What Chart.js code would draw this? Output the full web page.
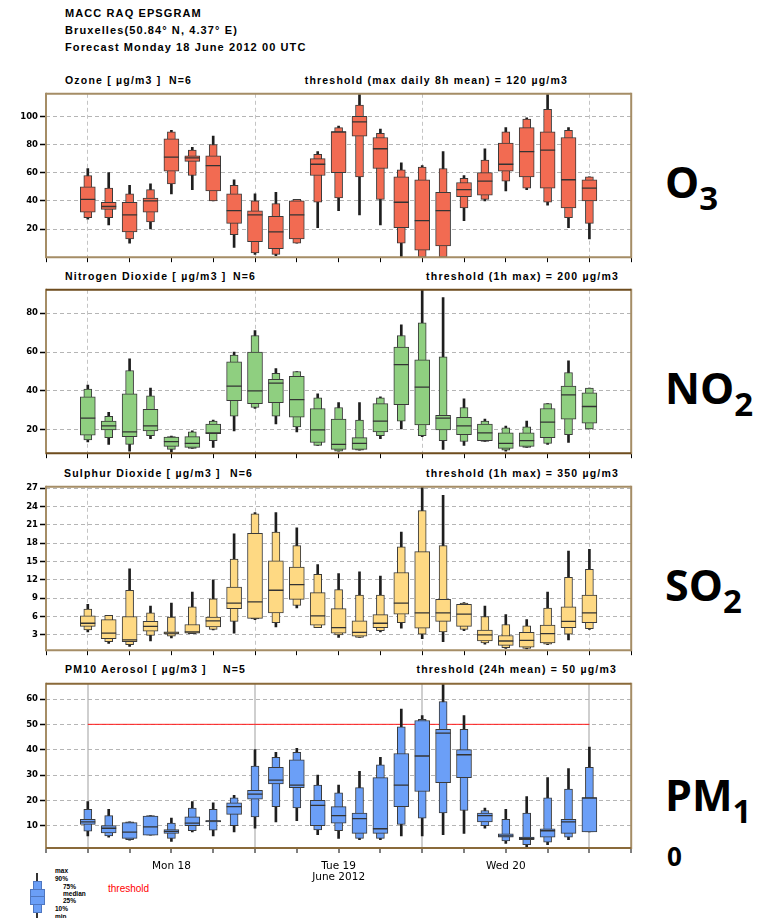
<!DOCTYPE html>
<html>
<head>
<meta charset="utf-8">
<title>MACC RAQ EPSGRAM</title>
<script src="https://cdn.jsdelivr.net/npm/chart.js@4.4.1/dist/chart.umd.min.js"></script>
<style>
  body { margin: 0; background: #fff; width: 763px; height: 918px; position: relative; overflow: hidden;
         font-family: "Liberation Sans", Arial, sans-serif; color: #000; }
  canvas { position: absolute; left: 0; }
  .t { position: absolute; font-weight: bold; font-size: 11px; line-height: 12px; letter-spacing: 1.1px; white-space: nowrap; }
  .p { position: absolute; font-weight: bold; font-size: 10.5px; line-height: 12px; letter-spacing: 1.2px; white-space: nowrap; }
  .big { position: absolute; left: 665px; font-family: "Open Sans", sans-serif; font-weight: bold; font-size: 43px;
         line-height: 43px; white-space: nowrap; }
  .big span { font-size: 33px; position: relative; top: 12px; }
  .lg { position: absolute; font-weight: bold; font-size: 6.5px; line-height: 7px; white-space: nowrap; }
  .gl { position: absolute; }
</style>
</head>
<body>

<div class="t" style="left:65px;top:7px">MACC RAQ EPSGRAM</div>
<div class="t" style="left:65px;top:24px">Bruxelles(50.84° N, 4.37° E)</div>
<div class="t" style="left:65px;top:41px">Forecast Monday 18 June 2012 00 UTC</div>

<div class="p" style="left:65px;top:74px">Ozone [ µg/m3 ]</div>
<div class="p" style="left:169px;top:74px">N=6</div>
<div class="p" style="right:195px;top:74px">threshold (max daily 8h mean) = 120 µg/m3</div>

<div class="p" style="left:65px;top:270px">Nitrogen Dioxide [ µg/m3 ]</div>
<div class="p" style="left:233px;top:270px">N=6</div>
<div class="p" style="right:144px;top:270px">threshold (1h max) = 200 µg/m3</div>

<div class="p" style="left:64px;top:467px">Sulphur Dioxide [ µg/m3 ]</div>
<div class="p" style="left:230px;top:467px">N=6</div>
<div class="p" style="right:144px;top:467px">threshold (1h max) = 350 µg/m3</div>

<div class="p" style="left:65px;top:663px">PM10 Aerosol [ µg/m3 ]</div>
<div class="p" style="left:223px;top:663px">N=5</div>
<div class="p" style="right:146px;top:663px">threshold (24h mean) = 50 µg/m3</div>

<div class="big" style="top:160px">O<span>3</span></div>
<div class="big" style="top:366px">NO<span>2</span></div>
<div class="big" style="top:563px">SO<span>2</span></div>
<div class="big" style="top:773px">PM<span>1</span></div>
<div class="big" style="top:843px;font-size:26px;line-height:26px;left:667px">0</div>

<!-- legend glyph -->
<div class="gl" style="left:36px;top:873px;width:1.5px;height:45px;background:#333"></div>
<div class="gl" style="left:33px;top:881px;width:7px;height:30px;background:#6b9ff7;border:1px solid #4f77c0"></div>
<div class="gl" style="left:30px;top:889px;width:13px;height:14px;background:#6b9ff7;border:1px solid #4f77c0"></div>
<div class="gl" style="left:30px;top:896px;width:15px;height:1px;background:#4f77c0"></div>
<div class="lg" style="left:55px;top:867px">max</div>
<div class="lg" style="left:55px;top:875px">90%</div>
<div class="lg" style="left:63px;top:883px">75%</div>
<div class="lg" style="left:63px;top:890px">median</div>
<div class="lg" style="left:63px;top:897px">25%</div>
<div class="lg" style="left:55px;top:905px">10%</div>
<div class="lg" style="left:55px;top:913px">min</div>
<div style="position:absolute;left:108px;top:883px;font-size:10px;line-height:12px;color:#f00">threshold</div>

<script>
// forecast steps (hours after Mon 18 June 00 UTC)
const hours = [0, 3, 6, 9, 12, 15, 18, 21, 24, 27, 30, 33, 36, 39, 42, 45, 48, 51, 54, 57, 60, 63, 66, 69, 72];
const xTicks = [-6, 0, 6, 12, 18, 24, 30, 36, 42, 48, 54, 60, 66, 72, 78];
const dayStarts = [0, 24, 48, 72];
const dayLabelHours = [12, 36, 60];
const dayLabels = ["Mon 18", ["Tue 19", "June 2012"], "Wed 20"];

// Ozone
const o3Min = [27, 23, 10, 20, 45, 48, 40, 7, 2, 1, 10, 21, 33, 30, 23, 0, -5, -1, 26, 40, 47, 48, 37, 21, 13];
const o3P10 = [28, 28, 13, 25, 52, 58, 40, 16, 3, 2, 10, 39, 42, 57, 41, 10, 0, 0, 35, 41, 54, 49, 39, 28, 24];
const o3P25 = [32, 34, 18, 32, 61, 68, 47, 24, 11, 6, 13, 58, 60, 86, 63, 21, 5, 8, 43, 44, 61, 57, 49, 35, 40];
const o3Med = [41, 36, 30, 40, 71, 70.5, 65, 33, 30, 18, 30, 66, 89, 96, 77, 39, 26, 33, 48, 54, 66, 75, 76, 55, 49];
const o3P75 = [50, 39, 39, 42, 84, 72, 72, 45, 33, 29, 40, 70, 89, 100, 85, 57, 55, 46, 53, 60, 81, 92, 89, 85, 55];
const o3P90 = [58, 49, 45, 48, 89, 76, 80, 51, 40, 38, 41, 73, 92, 108, 88, 62, 64, 63, 56, 69, 89, 98, 105, 90, 57];
const o3Max = [63, 60, 51, 52, 90, 78, 86, 55, 45, 46, 41, 75, 93, 117, 91, 67, 65, 75, 58, 77, 92, 99, 117, 92, 57];
const o3Ticks = [20, 40, 60, 80, 100];

// Nitrogen dioxide
const no2Min = [13.8, 12.5, 9, 15.5, 8.5, 10.5, 11, 19.5, 31, 23, 19, 12, 9, 9.5, 15.5, 20.5, 16.5, 10, 12, 14, 9, 11, 12.5, 13.5, 20.5];
const no2P10 = [14.8, 16, 12.5, 17, 10, 10.5, 14.5, 27, 31.5, 27, 21.5, 12, 9, 9.5, 17, 24.5, 17, 14.5, 14, 14, 9.5, 11, 13, 17.5, 20.5];
const no2P25 = [17.3, 20, 16.5, 19.5, 11.5, 11, 18, 35, 33.5, 34, 26.5, 13.5, 10, 10, 19, 33, 22.5, 20, 17.5, 14.5, 10.5, 11.5, 16, 25.5, 23.5];
const no2Med = [26, 22, 19, 22, 14, 13, 18.5, 42.5, 40, 44, 35.5, 20, 12.5, 13, 24.5, 53.5, 42, 26, 22, 18.5, 13, 14.5, 24, 38, 32];
const no2P75 = [37, 24.5, 38.5, 30.5, 16.3, 16.5, 23, 55, 60, 46, 47.5, 31, 25.5, 16, 33.5, 62.5, 56, 27.5, 26.5, 23, 18.5, 18.5, 31, 42.5, 39];
const no2P90 = [41, 27, 50.5, 37.5, 16.5, 19, 24.5, 58.5, 68.5, 49, 50, 36.5, 31.5, 25, 36.5, 68.5, 75, 57.5, 31.5, 24.5, 21, 21.5, 33.5, 49.5, 41.5];
const no2Max = [43, 29, 56.5, 41.5, 16.8, 19.5, 25, 60, 71, 51.5, 50, 38.5, 34, 34, 37, 74, 92, 88, 36, 25.5, 22, 24.5, 33.5, 55.5, 41.5];
const no2Ticks = [20, 40, 60, 80];

// Sulphur dioxide
const so2Min = [3.5, 1.6, 1.1, 2.0, 2.5, 3.2, 3.8, 3.3, 5.5, 4.3, 7.4, 4.2, 2.6, 2.6, 3.5, 4.1, 2.4, 1.9, 3.7, 1.5, 0.8, 0.7, 1.4, 2.2, 3.9];
const so2P10 = [3.8, 1.9, 1.4, 2.9, 2.8, 3.2, 3.9, 5.2, 5.6, 5.0, 7.8, 4.2, 3.0, 2.6, 3.7, 5.0, 3.1, 3.5, 3.9, 1.7, 0.9, 0.8, 1.5, 3.1, 4.0];
const so2P25 = [4.4, 2.4, 1.9, 3.6, 3.1, 3.3, 4.3, 7.3, 5.7, 6.6, 8.8, 4.6, 3.3, 2.8, 4.2, 6.4, 4.1, 5.2, 4.4, 2.0, 1.3, 1.0, 1.7, 4.2, 5.0];
const so2Med = [4.9, 3.3, 2.2, 4.4, 3.3, 3.5, 5.3, 8.2, 8.4, 10.3, 11.2, 6.1, 4.2, 3.4, 4.9, 8.2, 6.6, 6.6, 6.4, 3.0, 2.0, 2.1, 3.2, 5.2, 6.6];
const so2P75 = [6.1, 5.5, 6.0, 5.2, 3.5, 4.7, 5.9, 10.8, 19.6, 15.1, 14.1, 9.9, 7.3, 5.3, 6.3, 13.2, 16.6, 8.8, 8.0, 3.8, 2.9, 3.4, 4.6, 7.6, 9.5];
const so2P90 = [7.2, 6.2, 10.3, 6.6, 5.9, 7.6, 8.9, 15.4, 22.8, 19.8, 17.6, 12.9, 10.4, 9.5, 9.5, 17.4, 23.3, 17.6, 8.2, 6.0, 4.7, 4.5, 7.4, 12.4, 13.7];
const so2Max = [8.0, 6.2, 13.8, 7.7, 8.2, 10.0, 12.0, 19.5, 23.0, 23.0, 20.5, 14.5, 13.0, 13.3, 12.6, 19.8, 27.5, 25.8, 8.3, 7.7, 6.3, 5.5, 10.0, 16.7, 17.0];
const so2Ticks = [3, 6, 9, 12, 15, 18, 21, 24, 27];

// PM10 aerosol
const pmMin = [6, 5.5, 4.3, 6.3, 3.8, 7.5, 6, 7.5, 9, 11.5, 12, 6.5, 5, 4.5, 4.5, 6, 6, 6.5, 7, 9, 3, 1.5, 2.5, 4.5, 7.5];
const pmP10 = [7.8, 6, 4.5, 6.3, 5, 8, 8.2, 10, 13.5, 17.5, 17, 8.3, 8, 5, 5, 10.5, 13, 15, 16, 10, 4, 2.5, 3.5, 5.5, 7.5];
const pmP25 = [10.5, 7.2, 5, 6.3, 7, 10, 11.5, 14.5, 20.5, 26.5, 25, 10, 11, 7, 7, 17.5, 23.5, 27, 29, 11.5, 5.5, 4.5, 5.5, 7, 7.5];
const pmMed = [11.5, 9, 7.5, 9.5, 7.8, 11, 11.8, 17.5, 22.5, 28, 26, 18, 14, 12.8, 8.8, 26, 37.5, 46.5, 38, 14, 6, 5, 8, 11.5, 21];
const pmP75 = [12.5, 10, 11.2, 13.8, 8.5, 13.5, 12, 19, 24, 33, 36, 20, 17.5, 15, 29, 38.5, 51.5, 48, 40, 15, 6.8, 5.5, 8.8, 12.5, 21];
const pmP90 = [16.5, 14, 11.5, 14, 11, 17, 16.5, 21, 33.5, 37, 39, 26, 23, 25, 34, 49, 52, 59, 48, 16, 12.5, 15, 21, 24.5, 33];
const pmMax = [19.5, 16.5, 11.5, 14, 13, 19.5, 19, 22, 40, 39, 40.5, 30, 26, 31.5, 37, 56, 53.5, 66, 53.5, 17, 16.5, 21.5, 29, 32.5, 41];
const pmTicks = [10, 20, 30, 40, 50, 60];
const pmThreshold = 50;
const thresholdHours = [0, 72];

const PLOT_H = 167;

// frame around the plot area (sides and top/bottom can differ in colour)
const framePlugin = {
  id: "frame",
  afterDraw(chart, args, opts) {
    const { ctx, chartArea: a } = chart;
    ctx.save();
    ctx.lineWidth = 2;
    ctx.strokeStyle = opts.side;
    ctx.beginPath();
    ctx.moveTo(a.left, a.top - 1);
    ctx.lineTo(a.left, a.bottom + 1);
    ctx.moveTo(a.right, a.top - 1);
    ctx.lineTo(a.right, a.bottom + 1);
    ctx.stroke();
    ctx.strokeStyle = opts.tb;
    ctx.beginPath();
    ctx.moveTo(a.left, a.top);
    ctx.lineTo(a.right, a.top);
    ctx.moveTo(a.left, a.bottom);
    ctx.lineTo(a.right, a.bottom);
    ctx.stroke();
    ctx.restore();
  },
};

function boxData(lo, hi) {
  return hours.map((h, i) => ({ x: h, y: [lo[i], hi[i]] }));
}

function makePanel(p) {
  const canvas = document.createElement("canvas");
  canvas.width = 640;
  canvas.height = 6 + PLOT_H + p.xHeight;
  canvas.style.top = p.top - 6 + "px";
  document.body.appendChild(canvas);

  const datasets = [
    {
      type: "line",
      data: hours.map((h, i) => ({ x: h, y: p.med[i] })),
      showLine: false,
      pointStyle: "line",
      pointRadius: 7.5,
      pointHoverRadius: 7.5,
      borderColor: "#333",
      pointBorderWidth: 1.3,
      order: 0,
    },
    {
      type: "bar",
      data: boxData(p.p25, p.p75),
      backgroundColor: p.fill,
      borderColor: "#3a3a3a",
      borderWidth: 1,
      borderSkipped: false,
      barThickness: 15,
      grouped: false,
      order: 1,
    },
    {
      type: "bar",
      data: boxData(p.p10, p.p90),
      backgroundColor: p.fill,
      borderColor: "#3a3a3a",
      borderWidth: 1,
      borderSkipped: false,
      barThickness: 8,
      grouped: false,
      order: 2,
    },
    {
      type: "bar",
      data: boxData(p.min, p.max),
      backgroundColor: "#1e1e1e",
      borderWidth: 0,
      barThickness: 2,
      grouped: false,
      order: 3,
    },
  ];

  if (p.threshold !== undefined) {
    datasets.push({
      type: "line",
      data: thresholdHours.map((h) => ({ x: h, y: p.threshold })),
      borderColor: "#ff1a1a",
      borderWidth: 1,
      pointRadius: 0,
      order: 10,
    });
  }

  return new Chart(canvas, {
    type: "bar",
    data: { datasets },
    plugins: [framePlugin],
    options: {
      responsive: false,
      animation: false,
      devicePixelRatio: 1,
      events: [],
      layout: { padding: { top: 6, right: 3, left: 0, bottom: 0 } },
      plugins: {
        legend: { display: false },
        tooltip: { enabled: false },
        frame: { side: p.frameSide, tb: p.frameTb },
      },
      scales: {
        x: {
          type: "linear",
          min: -6,
          max: 78,
          offset: false,
          afterBuildTicks: (s) => {
            s.ticks = xTicks.map((v) => ({ value: v }));
          },
          afterFit: (s) => {
            s.height = p.xHeight;
          },
          grid: {
            offset: false,
            color: (c) => (c.tick && dayStarts.includes(c.tick.value) ? p.vGridColor : "rgba(0,0,0,0)"),
            lineWidth: p.vGridWidth,
            tickColor: "#000",
            tickLength: 5,
            tickWidth: 1,
          },
          border: { display: false, dash: p.vGridDash },
          ticks: {
            autoSkip: false,
            maxRotation: 0,
            padding: 8,
            color: "#000",
            font: { family: "DejaVu Sans", size: 10.5, lineHeight: 1.05 },
            callback: (v) => {
              if (!p.dayLabels) return "";
              const k = dayLabelHours.indexOf(v);
              return k >= 0 ? dayLabels[k] : "";
            },
          },
        },
        y: {
          min: p.yMin,
          max: p.yMax,
          afterBuildTicks: (s) => {
            s.ticks = p.yTicks.map((v) => ({ value: v }));
          },
          afterFit: (s) => {
            s.width = 46;
          },
          grid: {
            color: "#b5b5b5",
            lineWidth: 1,
            tickColor: "#000",
            tickLength: 6,
            tickWidth: 1.5,
          },
          border: { display: false, dash: [4, 3] },
          ticks: {
            padding: 2,
            color: "#000",
            font: { family: "DejaVu Sans", weight: "bold", size: 8.5 },
          },
        },
      },
    },
  });
}

const dashedDays = { vGridColor: "#c4c4c4", vGridWidth: 1, vGridDash: [4, 3] };

makePanel({
  top: 91, xHeight: 8, yMin: 0, yMax: 116, yTicks: o3Ticks, fill: "#f26b52",
  min: o3Min, p10: o3P10, p25: o3P25, med: o3Med, p75: o3P75, p90: o3P90, max: o3Max,
  frameSide: "#a58d66", frameTb: "#a58d66", ...dashedDays,
});

makePanel({
  top: 287, xHeight: 8, yMin: 8, yMax: 92, yTicks: no2Ticks, fill: "#8fcf80",
  min: no2Min, p10: no2P10, p25: no2P25, med: no2Med, p75: no2P75, p90: no2P90, max: no2Max,
  frameSide: "#a58d66", frameTb: "#6e4c1e", ...dashedDays,
});

makePanel({
  top: 484, xHeight: 8, yMin: 0.5, yMax: 27.2, yTicks: so2Ticks, fill: "#fed983",
  min: so2Min, p10: so2P10, p25: so2P25, med: so2Med, p75: so2P75, p90: so2P90, max: so2Max,
  frameSide: "#a58d66", frameTb: "#a58d66", ...dashedDays,
});

makePanel({
  top: 681, xHeight: 40, yMin: 1.2, yMax: 66, yTicks: pmTicks, fill: "#6b9ff7",
  min: pmMin, p10: pmP10, p25: pmP25, med: pmMed, p75: pmP75, p90: pmP90, max: pmMax,
  threshold: pmThreshold, dayLabels: true,
  frameSide: "#a58d66", frameTb: "#8a6a3a",
  vGridColor: "#cfcfcf", vGridWidth: 2, vGridDash: [],
});
</script>
</body>
</html>
